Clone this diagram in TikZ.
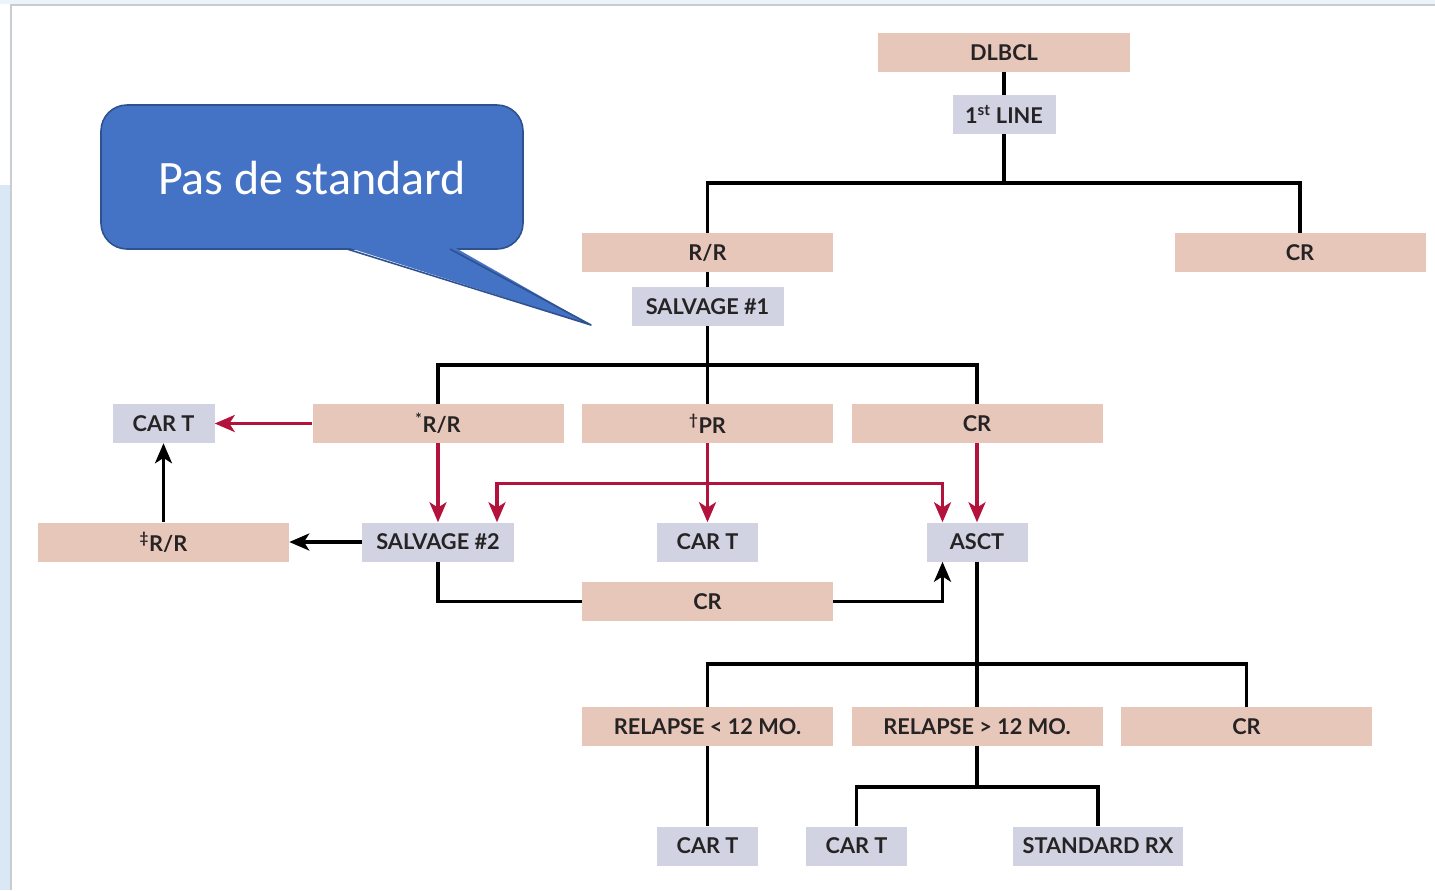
\documentclass[tikz,border=0pt]{standalone}
\usepackage{fontspec}
\setmainfont{Lato}
\newfontfamily\calloutfont{Carlito}
\usetikzlibrary{arrows.meta,calc}
\newdimen\pxu \pxu=0.75pt
\definecolor{pinkbox}{HTML}{E8C7BB}
\definecolor{graybox}{HTML}{D1D3E3}
\definecolor{arrred}{HTML}{B3123C}
\definecolor{txt}{HTML}{262324}
\definecolor{callfill}{HTML}{4472C4}
\definecolor{callborder}{HTML}{2F528F}
\definecolor{stripblue}{HTML}{D9E8F4}
\definecolor{framegray}{HTML}{C8CDD2}
\tikzset{
  basebox/.style={inner sep=0pt, minimum height=39\pxu, text=txt, font=\bfseries\fontsize{16.3}{19}\selectfont},
  pbox/.style={basebox, fill=pinkbox},
  gbox/.style={basebox, fill=graybox},
  blk/.style={draw=black, line width=3.2\pxu},
  redl/.style={draw=arrred, line width=3.2\pxu},
  tip/.style={-{Stealth[length=15pt,width=12.75pt,inset=4pt]}},
  tips/.style={{Stealth[length=15pt,width=12.75pt,inset=4pt]}-{Stealth[length=15pt,width=12.75pt,inset=4pt]}},
}
\begin{document}
\begin{tikzpicture}[x=0.75pt,y=-0.75pt]
\useasboundingbox (0,0) rectangle (1435,890);
% screenshot frame
\fill[stripblue] (0,185) rectangle (10,890);
\fill[stripblue!50] (0,0) rectangle (1435,4);
\draw[framegray, line width=1.2\pxu] (11,890) -- (11,5) -- (1435,5);

% nodes
\node[pbox, minimum width=252\pxu] (dlbcl) at (1004,52.5) {DLBCL};
\node[gbox, minimum width=103\pxu] (first) at (1004,114.5) {1\textsuperscript{st} LINE};
\node[pbox, minimum width=251\pxu] (rr) at (707.5,252.5) {R/R};
\node[pbox, minimum width=251\pxu] (crtop) at (1300,252.5) {CR};
\node[gbox, minimum width=152\pxu] (salv1) at (707.5,306.5) {SALVAGE \#1};
\node[pbox, minimum width=251\pxu] (rrs) at (438,423.5) {\textsuperscript{*}R/R};
\node[pbox, minimum width=251\pxu] (pr) at (707.5,423.5) {\textsuperscript{†}PR};
\node[pbox, minimum width=251\pxu] (crs) at (977,423.5) {CR};
\node[gbox, minimum width=102\pxu] (cart1) at (163.5,423.5) {CAR T};
\node[pbox, minimum width=251\pxu] (rr3) at (163.5,542) {\textsuperscript{‡}R/R};
\node[gbox, minimum width=152\pxu] (salv2) at (438,542) {SALVAGE \#2};
\node[gbox, minimum width=101\pxu] (cartm) at (707.5,542) {CAR T};
\node[gbox, minimum width=101\pxu] (asct) at (977,542) {ASCT};
\node[pbox, minimum width=251\pxu] (crm) at (707.5,601.5) {CR};
\node[pbox, minimum width=251\pxu] (rel1) at (707.5,726.5) {RELAPSE < 12 MO.};
\node[pbox, minimum width=251\pxu] (rel2) at (977,726.5) {RELAPSE > 12 MO.};
\node[pbox, minimum width=251\pxu] (crb) at (1246.5,726.5) {CR};
\node[gbox, minimum width=101\pxu] (cartb1) at (707.5,846) {CAR T};
\node[gbox, minimum width=101\pxu] (cartb2) at (856.5,846) {CAR T};
\node[gbox, minimum width=170\pxu] (std) at (1098,846) {STANDARD RX};

\coordinate (b1) at (1004,183);
\coordinate (b2) at (707.5,365);
\coordinate (b3) at (977,664);
\coordinate (b4) at (977,787);

% black connectors
\draw[blk] (dlbcl.south) -- (first.north);
\draw[blk] (first.south) -- (b1);
\draw[blk] (rr.north) |- (b1) -| (crtop.north);
\draw[blk] (rr.south) -- (salv1.north);
\draw[blk] (salv1.south) -- (pr.north);
\draw[blk] (rrs.north) |- (b2) -| (crs.north);
\draw[blk, tip] (rr3.north) -- (cart1.south);
\draw[blk, tip] (salv2.west) -- (rr3.east);
\draw[blk] (salv2.south) |- (crm.west);
\draw[blk, tip] (crm.east) -| ([xshift=-34.5\pxu]asct.south);
\draw[blk] (asct.south) -- (rel2.north);
\draw[blk] (rel1.north) |- (b3) -| (crb.north);
\draw[blk] (rel1.south) -- (cartb1.north);
\draw[blk] (rel2.south) -- (b4);
\draw[blk] (cartb2.north) |- (b4) -| (std.north);

% red connectors
\draw[redl, tip] (rrs.west) -- (cart1.east);
\draw[redl, tip] (rrs.south) -- (salv2.north);
\draw[redl, tip] (pr.south) -- (cartm.north);
\draw[redl, tip] (crs.south) -- (asct.north);
\draw[redl, tips] ([xshift=59\pxu]salv2.north) -- ++(0,-39) -| ([xshift=-34.5\pxu]asct.north);

% callout
\draw[fill=callfill, draw=callborder, line width=1.6\pxu, rounded corners=26\pxu] (101,105) rectangle (523,249);
\fill[callfill] (345,246.5) -- (453,246.5) -- (591,325) -- cycle;
\draw[callborder, line width=1.6\pxu, line join=round] (347,249) -- (591,325) -- (450,249);
\node[text=white, font=\calloutfont\fontsize{36}{40}\selectfont, inner sep=0pt] (callout) at (312,178) {Pas de standard};
\end{tikzpicture}
\end{document}
